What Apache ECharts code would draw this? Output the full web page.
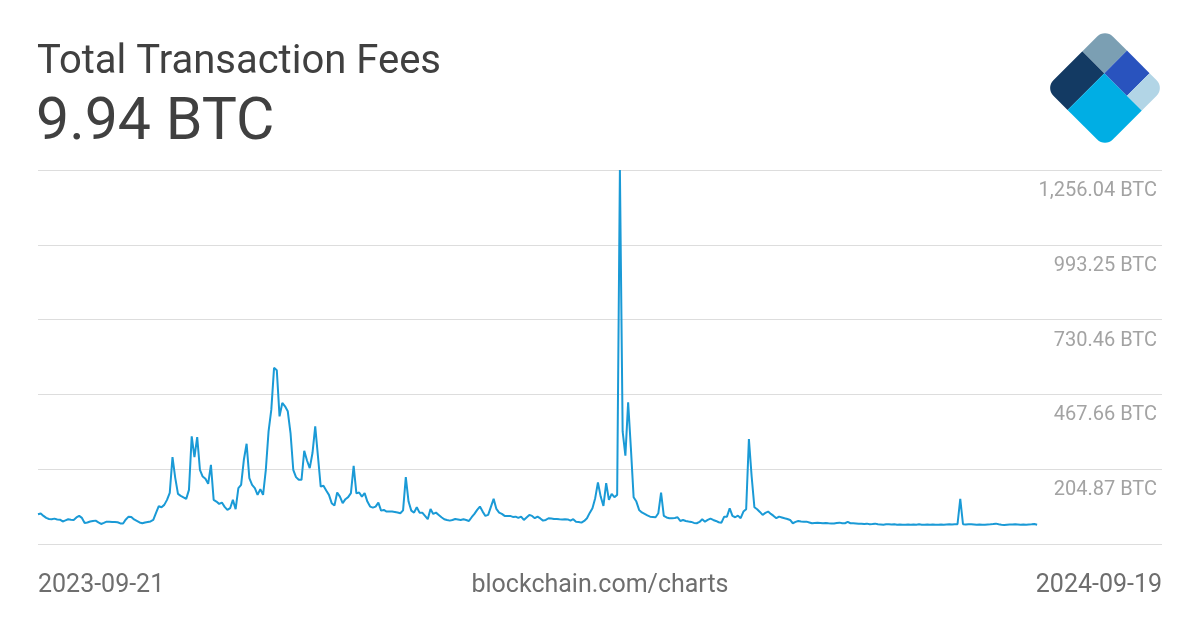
<!DOCTYPE html>
<html>
<head>
<meta charset="utf-8">
<script src="https://cdn.jsdelivr.net/npm/echarts@6/dist/echarts.min.js"></script>
<style>
html,body{margin:0;padding:0;background:#fff;}
#chart{width:1200px;height:630px;}
</style>
</head>
<body>
<div id="chart"></div>
<script>
// Chart texts
const titleText = 'Total Transaction Fees';
const currentValueText = '9.94 BTC';
const startDateLabel = '2023-09-21';
const endDateLabel = '2024-09-19';
const sourceLabel = 'blockchain.com/charts';

// Y axis ticks (BTC)
const yMin = -57.9225;
const yMax = 1256.04;
const yInterval = 262.7925;
const yTickLabels = ['', '204.87 BTC', '467.66 BTC', '730.46 BTC', '993.25 BTC', '1,256.04 BTC'];

// X axis extent in days from 2023-09-21
const xMaxDays = 409.5;

// Daily total transaction fees (BTC), day 0 = 2023-09-21
const fees = [
  46.7, 49.5, 40.7, 33.7, 30.1, 29.1, 31.2, 28.4, 27.7, 21.3,
  24.9, 29.1, 27.3, 26.6, 35.4, 40.7, 33.7, 16.1, 17.8, 21.3,
  23.1, 24.2, 17.8, 12.5, 16.1, 20.6, 20.3, 19.6, 19.6, 18.5,
  14.3, 14.3, 28.4, 38.2, 37.2, 28.4, 23.1, 17.8, 15.0, 17.8,
  19.6, 21.3, 26.6, 51.3, 74.9, 71.4, 79.5, 97.1, 121.7, 247.5,
  174.6, 118.2, 111.2, 105.9, 100.6, 132.3, 320.1, 247.5, 317.9, 202.8,
  179.2, 171.0, 153.4, 220.4, 97.1, 91.1, 83.0, 87.6, 72.4, 61.8,
  67.8, 97.1, 64.3, 138.3, 149.9, 238.0, 294.3, 173.5, 149.9, 138.3,
  114.7, 134.8, 114.7, 202.8, 337.7, 414.1, 561.0, 552.6, 390.5, 437.7,
  425.7, 408.1, 332.0, 202.8, 177.0, 167.5, 167.5, 269.7, 235.5, 208.7,
  261.6, 355.3, 249.6, 143.9, 146.4, 129.8, 114.7, 85.5, 77.0, 122.8,
  108.7, 85.5, 99.5, 106.6, 120.7, 216.8, 120.0, 122.8, 108.7, 120.7,
  91.1, 73.5, 70.0, 73.5, 87.6, 59.4, 61.8, 55.9, 56.6, 55.9,
  54.8, 53.0, 50.2, 60.1, 177.0, 91.1, 59.4, 52.3, 71.4, 52.3,
  52.3, 40.7, 29.1, 65.4, 47.8, 52.3, 44.2, 36.1, 29.1, 26.6,
  24.2, 26.6, 30.1, 28.4, 26.6, 29.1, 26.6, 23.1, 36.1, 47.8,
  61.8, 73.5, 55.9, 40.7, 44.2, 72.4, 100.6, 65.4, 52.3, 47.8,
  40.7, 40.7, 40.7, 37.2, 38.2, 33.7, 38.2, 26.6, 35.4, 44.2,
  40.7, 32.6, 38.2, 31.9, 24.2, 26.6, 32.6, 31.9, 30.1, 30.1,
  29.1, 28.4, 29.1, 28.4, 24.2, 29.1, 20.6, 19.6, 17.1, 23.1,
  32.6, 51.3, 67.8, 103.1, 158.0, 108.7, 75.9, 155.9, 97.1, 118.2,
  106.6, 114.7, 1256.04, 337.7, 252.1, 439.8, 279.2, 106.6, 91.1, 61.8,
  53.0, 47.8, 42.5, 38.2, 37.2, 36.1, 50.2, 122.8, 40.7, 35.4,
  32.6, 32.6, 33.7, 36.1, 23.1, 26.6, 23.1, 21.3, 19.6, 16.1,
  15.0, 19.6, 29.1, 20.6, 26.6, 31.2, 26.6, 23.1, 18.5, 17.1,
  38.2, 38.2, 67.8, 40.7, 36.1, 41.8, 32.6, 55.9, 64.3, 310.9,
  179.2, 71.4, 64.3, 54.8, 44.2, 51.3, 55.9, 47.8, 40.7, 32.6,
  38.2, 35.4, 32.6, 30.1, 26.6, 15.0, 19.6, 23.1, 21.3, 20.6,
  20.6, 17.8, 15.0, 16.1, 17.1, 16.1, 15.0, 16.1, 15.0, 14.3,
  14.3, 16.1, 17.1, 15.0, 15.0, 19.6, 15.0, 15.0, 14.3, 13.6,
  13.6, 12.5, 13.6, 11.5, 12.5, 13.6, 11.5, 10.8, 10.1, 11.5,
  11.5, 10.8, 11.5, 10.1, 10.8, 10.1, 10.1, 10.8, 10.1, 10.8,
  10.1, 11.5, 10.1, 10.1, 10.8, 10.1, 10.8, 10.1, 10.1, 10.8,
  10.1, 10.8, 11.5, 10.8, 11.5, 11.5, 100.6, 11.5, 10.8, 11.5,
  11.5, 10.8, 10.1, 10.8, 10.1, 10.1, 10.8, 11.5, 12.5, 13.6,
  11.5, 10.1, 9.0, 10.1, 10.8, 10.8, 11.5, 10.8, 10.1, 10.8,
  10.1, 10.8, 11.5, 12.5, 9.94
];

const seriesData = fees.map((v, i) => [i, v]);

const chart = echarts.init(document.getElementById('chart'), null, {renderer: 'canvas'});

const logoColors = {navy: '#133a63', slate: '#7b9fb3', blue: '#2953be', light: '#b2d5e6', cyan: '#00aee4'};
const s = 84, h = s / 2, cut1 = 0.62 * s, cut2 = 0.37 * s, cut3 = 0.75 * s, rr = 11;

chart.setOption({
  animation: false,
  backgroundColor: '#ffffff',
  grid: {left: 38, right: 38, top: 170, bottom: 86, containLabel: false},
  xAxis: {
    type: 'value', min: 0, max: xMaxDays,
    show: false
  },
  yAxis: {
    type: 'value', position: 'right',
    min: yMin, max: yMax, interval: yInterval,
    axisLine: {show: false}, axisTick: {show: false},
    splitLine: {show: true, lineStyle: {color: '#dddddd', width: 1}},
    axisLabel: {
      inside: true, margin: 5, align: 'right', verticalAlign: 'top',
      padding: [11, 0, 0, 0],
      color: '#a3a3a3', fontFamily: 'Roboto', fontSize: 20,
      formatter: (v, i) => yTickLabels[i] || ''
    }
  },
  series: [{
    type: 'line', data: seriesData, showSymbol: false, symbol: 'none',
    lineStyle: {color: '#1a9ad6', width: 2}, itemStyle: {color: '#1a9ad6'}
  }],
  graphic: [
    {type: 'text', x: 37, y: 63, style: {text: titleText, font: '40px Roboto', fill: '#404040', verticalAlign: 'middle'}},
    {type: 'text', x: 36, y: 124, style: {text: currentValueText, font: '59px Roboto', fill: '#404040', verticalAlign: 'middle'}},
    {type: 'text', x: 38, y: 586, style: {text: startDateLabel, font: '25px Roboto', fill: '#6e6e6e', verticalAlign: 'middle', align: 'left'}},
    {type: 'text', x: 600, y: 586, style: {text: sourceLabel, font: '25px Roboto', fill: '#6e6e6e', verticalAlign: 'middle', align: 'center'}},
    {type: 'text', x: 1162, y: 586, style: {text: endDateLabel, font: '25px Roboto', fill: '#6e6e6e', verticalAlign: 'middle', align: 'right'}},
    {
      type: 'group', x: 1105, y: 88, rotation: Math.PI / 4,
      children: [
        {type: 'rect', shape: {x: -h, y: -h, width: cut1, height: cut2, r: [rr, 0, 0, 0]}, style: {fill: logoColors.navy}},
        {type: 'rect', shape: {x: -h + cut1, y: -h, width: s - cut1, height: cut2, r: [0, rr, 0, 0]}, style: {fill: logoColors.slate}},
        {type: 'rect', shape: {x: -h, y: -h + cut2, width: cut1, height: s - cut2, r: [0, 0, 0, rr]}, style: {fill: logoColors.cyan}},
        {type: 'rect', shape: {x: -h + cut1, y: -h + cut2, width: s - cut1, height: cut3 - cut2}, style: {fill: logoColors.blue}},
        {type: 'rect', shape: {x: -h + cut1, y: -h + cut3, width: s - cut1, height: s - cut3, r: [0, 0, rr, 0]}, style: {fill: logoColors.light}}
      ]
    }
  ]
});
</script>
</body>
</html>
